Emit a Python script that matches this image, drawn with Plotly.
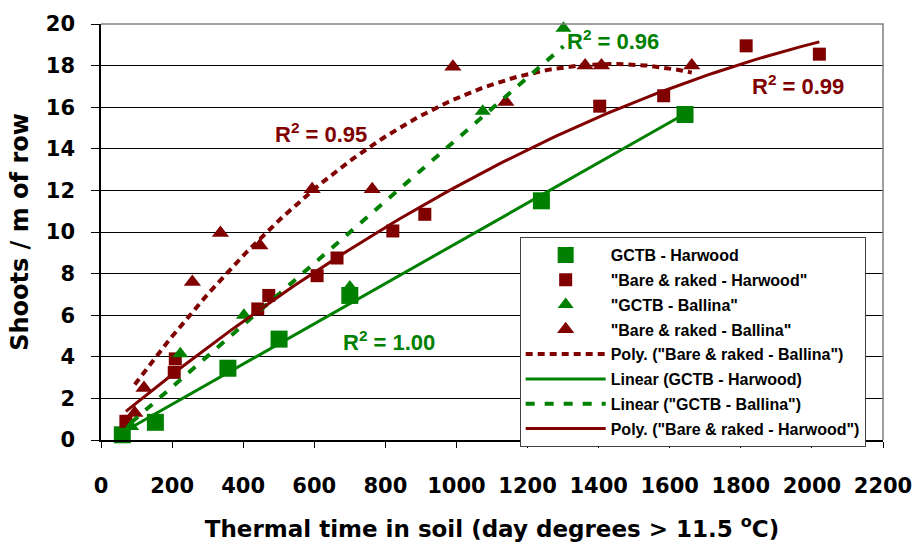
import numpy as np
import plotly.graph_objects as go

# Thermal time (day degrees > 11.5 C) and shoot counts per metre of row
gctb_harwood_x = [60, 153, 357, 501, 700, 1239, 1643]
gctb_harwood_y = [0.25, 0.85, 3.45, 4.85, 6.95, 11.5, 15.65]

bare_harwood_x = [70, 206, 209, 441, 472, 608, 664, 821, 911, 1403, 1583, 1815, 2021]
bare_harwood_y = [0.9, 3.25, 3.9, 6.3, 6.95, 7.9, 8.75, 10.05, 10.85, 16.05, 16.55, 18.95, 18.55]

gctb_ballina_x = [85, 223, 402, 700, 1074, 1301]
gctb_ballina_y = [0.65, 4.15, 6.0, 7.35, 15.8, 19.8]

bare_ballina_x = [95, 121, 257, 336, 447, 594, 763, 990, 1139, 1362, 1408, 1662]
bare_ballina_y = [1.3, 2.5, 7.6, 9.95, 9.35, 12.05, 12.05, 17.95, 16.25, 18.0, 18.0, 18.0]

r2_labels = ["0.95", "0.96", "0.99", "1.00"]

GREEN = "#008000"
RED = "#800000"
FONT = "Liberation Sans, Arial, sans-serif"
WIDE = "DejaVu Sans, Liberation Sans, sans-serif"


def trend(xs, ys, order):
    coef = np.polyfit(xs, ys, order)
    gx = np.linspace(min(xs), max(xs), 120)
    return gx, np.polyval(coef, gx)


fig = go.Figure()

series = [
    (gctb_harwood_x, gctb_harwood_y, "GCTB - Harwood", "square", 17, GREEN),
    (bare_harwood_x, bare_harwood_y, '"Bare & raked - Harwood"', "square", 13, RED),
    (gctb_ballina_x, gctb_ballina_y, '"GCTB - Ballina"', "triangle-up", 14, GREEN),
    (bare_ballina_x, bare_ballina_y, '"Bare & raked - Ballina"', "triangle-up", 15, RED),
]
for i, (xs, ys, name, sym, size, col) in enumerate(series):
    fig.add_trace(go.Scatter(
        x=xs, y=ys, mode="markers", name=name, legendgroup=f"g{i}",
        marker=dict(symbol=sym, size=size, color=col), cliponaxis=False))

trendlines = [
    (bare_ballina_x, bare_ballina_y, 2, 'Poly. ("Bare & raked - Ballina")', RED, 4, "7px,5px"),
    (gctb_harwood_x, gctb_harwood_y, 1, "Linear (GCTB - Harwood)", GREEN, 3, "solid"),
    (gctb_ballina_x, gctb_ballina_y, 1, 'Linear ("GCTB - Ballina")', GREEN, 4, "9px,10px"),
    (bare_harwood_x, bare_harwood_y, 2, 'Poly. ("Bare & raked - Harwood")', RED, 3, "solid"),
]
for j, (xs, ys, order, name, col, w, dash) in enumerate(trendlines):
    tx, ty = trend(xs, ys, order)
    fig.add_trace(go.Scatter(x=tx, y=ty, mode="lines", name=name, legendgroup=f"t{j}",
                             line=dict(color=col, width=w, dash=dash)))

# R-squared labels for each trendline
r2_pos = [(618, 14.78, RED), (1440, 19.23, GREEN), (1960, 17.08, RED), (810, 4.78, GREEN)]
for lab, (ax_, ay_, col) in zip(r2_labels, r2_pos):
    fig.add_annotation(x=ax_, y=ay_, text=f"R<sup>2</sup> = {lab}", showarrow=False,
                       font=dict(family=FONT, size=22, color=col, weight="bold"))

# top and right edges of the plot area
fig.add_shape(type="path", path="M0,1 L1,1 L1,0", xref="paper", yref="paper",
              line=dict(color="#808080", width=1.5), layer="above")

fig.update_layout(
    width=924, height=550,
    margin=dict(l=101, r=33, t=22, b=110),
    paper_bgcolor="white", plot_bgcolor="white",
    font=dict(family=FONT, color="black"),
    xaxis=dict(
        range=[0, 2200], dtick=200, tick0=0, showgrid=False, zeroline=False,
        showline=True, linecolor="black", linewidth=1.5,
        ticks="outside", ticklen=6, tickcolor="black", ticklabelstandoff=20,
        tickfont=dict(family=WIDE, size=21, weight="bold"),
        title=dict(text="Thermal time in soil (day degrees > 11.5 <sup>o</sup>C)",
                   font=dict(family=WIDE, size=23, weight="bold"), standoff=24),
    ),
    yaxis=dict(
        range=[0, 20], dtick=2, tick0=0, showgrid=True, gridcolor="black", gridwidth=1,
        zeroline=False, showline=True, linecolor="black", linewidth=1.5,
        ticks="outside", ticklen=8, tickcolor="black", ticklabelstandoff=12,
        tickfont=dict(family=WIDE, size=21, weight="bold"),
        title=dict(text="Shoots / m of row",
                   font=dict(family=WIDE, size=24, weight="bold"), standoff=10),
    ),
    legend=dict(
        x=0.5354, y=0.488, xanchor="left", yanchor="top",
        bgcolor="white", bordercolor="#404040", borderwidth=1,
        font=dict(family=FONT, size=16, color="black", weight="bold"),
        itemwidth=80, tracegroupgap=1, traceorder="grouped",
    ),
    showlegend=True,
)

fig.write_html("out.html")
